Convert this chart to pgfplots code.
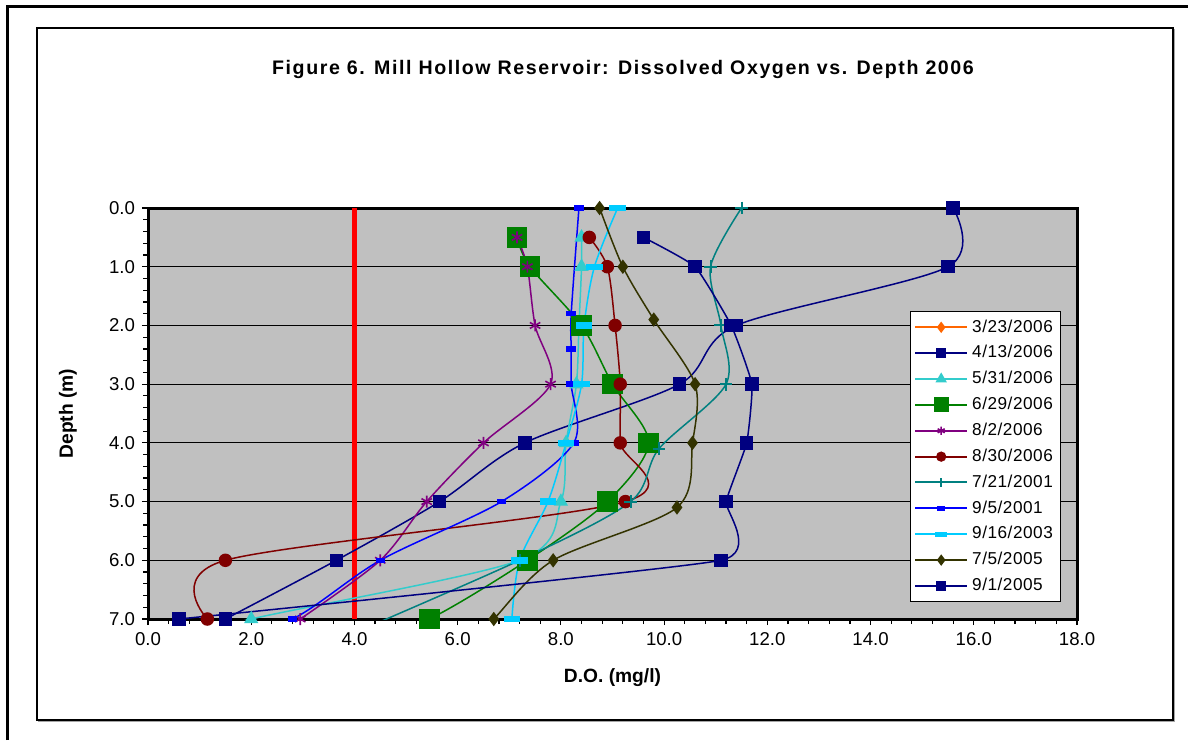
\documentclass[border=0pt]{standalone}
\usepackage{fontspec}
\setmainfont{Liberation Sans}
\usepackage{pgfplots}
\pgfplotsset{compat=1.18}
\definecolor{cnavy}{HTML}{000080}
\definecolor{cturq}{HTML}{33CCCC}
\definecolor{cgreen}{HTML}{008000}
\definecolor{cpurple}{HTML}{800080}
\definecolor{cdred}{HTML}{800000}
\definecolor{cteal}{HTML}{008080}
\definecolor{cblue}{HTML}{0000FF}
\definecolor{ccyan}{HTML}{00CCFF}
\definecolor{colive}{HTML}{333300}
\definecolor{corange}{HTML}{FF6600}
\definecolor{csilver}{HTML}{C0C0C0}
\begin{document}
\begin{tikzpicture}
\useasboundingbox (0,0) rectangle (594pt,370pt);
\fill[white] (0,0) rectangle (594pt,370pt);
\draw[line width=1.5pt] (3.5pt,0) -- (3.5pt,366.5pt) -- (594pt,366.5pt);
\draw[gray!70, line width=1pt] (19.2pt,9.3pt) -- (587.2pt,9.3pt) -- (587.2pt,355.3pt);
\draw[black, line width=0.6pt] (18.5pt,10pt) rectangle (586.5pt,356pt);
\node[font=\fontsize{9.8}{11}\selectfont\bfseries\addfontfeature{LetterSpace=8}] at (311.5pt,335.5pt) {Figure 6. Mill Hollow Reservoir: Dissolved Oxygen vs. Depth 2006};
\begin{axis}[
  at={(74pt,60.5pt)}, anchor=south west,
  width=464.5pt, height=205.5pt, scale only axis,
  xmin=0, xmax=18, ymin=0, ymax=7, y dir=reverse,
  xtick={0,2,...,18}, ytick={0,1,...,7},
  minor x tick num=4, minor y tick num=4,
  tick align=outside, major tick length=3pt, minor tick length=2.5pt,
  xtick pos=bottom, ytick pos=left,
  tick style={black, line width=0.6pt},
  axis line style={line width=1.5pt},
  axis background/.style={fill=csilver},
  ymajorgrids, grid style={black, line width=0.5pt},
  /pgf/number format/assume math mode=true,
  xticklabel style={/pgf/number format/.cd, fixed, fixed zerofill, precision=1},
  yticklabel style={/pgf/number format/.cd, fixed, fixed zerofill, precision=1},
  ticklabel style={font=\fontsize{9.3}{11}\selectfont},
  xlabel={D.O. (mg/l)}, ylabel={Depth (m)},
  label style={font=\fontsize{9.6}{11}\selectfont\bfseries},
  xlabel style={at={(axis description cs:0.5,0)}, anchor=center, yshift=-29.5pt},
  ylabel style={at={(axis description cs:0,0.5)}, anchor=center, yshift=40pt},
  legend style={at={(0.820,0.749)}, anchor=north west, draw=black, fill=white,
    font=\fontsize{8.6}{10}\selectfont\addfontfeature{LetterSpace=3}, row sep=1.2pt, inner sep=2pt,
    cells={anchor=west}},
  legend image code/.code={\draw[line width=1pt, mark repeat=2,mark phase=2, every mark/.append style={scale=0.68}] plot coordinates {(0pt,0pt)(13pt,0pt)(26pt,0pt)};},
  every axis plot/.append style={line width=0.75pt, smooth, tension=0.5},
]
\addplot[red, line width=2.6pt, mark=none, forget plot, sharp plot] coordinates {(4,0)(4,7)};
\addlegendimage{corange, mark=diamond*, mark size=3pt, mark options={solid}}
\addlegendentry{3/23/2006}
\addplot[cnavy, mark=square*, mark size=3pt] coordinates {(15.6,0)(15.5,1)(11.4,2)(10.3,3)(7.3,4)(5.65,5)(3.65,6)(1.5,7)};
\addlegendentry{4/13/2006}
\addplot[cturq, mark=triangle*, mark size=3.4pt] coordinates {(8.4,0.5)(8.4,1)(8.35,2)(8.3,3)(8.1,4)(8.0,5)(7.2,6)(2.0,7)(1.0,7.3)};
\addlegendentry{5/31/2006}
\addplot[cgreen, mark=square*, mark size=4.75pt] coordinates {(7.15,0.5)(7.4,1)(8.4,2)(9.0,3)(9.7,4)(8.9,5)(7.35,6)(5.45,7)(4.0,7.4)};
\addlegendentry{6/29/2006}
\addplot[cpurple, mark=asterisk, mark size=3pt, mark options={line width=0.8pt}] coordinates {(7.15,0.5)(7.35,1)(7.5,2)(7.8,3)(6.5,4)(5.4,5)(4.5,6)(2.95,7)};
\addlegendentry{8/2/2006}
\addplot[cdred, mark=*, mark size=3pt] coordinates {(8.55,0.5)(8.9,1)(9.05,2)(9.15,3)(9.15,4)(9.25,5)(1.5,6)(1.15,7)};
\addlegendentry{8/30/2006}
\addplot[cteal, mark=+, mark size=3.2pt, mark options={line width=1pt}] coordinates {(11.5,0)(10.9,1)(11.1,2)(11.2,3)(9.9,4.1)(9.35,5)(7.2,6)(3.3,7.5)};
\addlegendentry{7/21/2001}
\addplot[cblue, mark=square*, mark size=2pt, mark options={yscale=0.5}] coordinates {(8.35,0)(8.2,1.8)(8.2,2.4)(8.2,3)(8.25,4)(6.85,5)(4.5,6)(2.8,7)(1.0,7.5)};
\addlegendentry{9/5/2001}
\addplot[ccyan, mark=square*, mark size=3.75pt, mark options={yscale=0.33}] coordinates {(9.1,0)(8.65,1)(8.45,2)(8.4,3)(8.1,4)(7.75,5)(7.2,6)(7.05,7)};
\addlegendentry{9/16/2003}
\addplot[colive, mark=diamond*, mark size=3pt] coordinates {(8.75,0)(9.2,1)(9.8,1.9)(10.6,3)(10.55,4)(10.25,5.1)(7.85,6)(6.7,7)(6.15,7.5)};
\addlegendentry{7/5/2005}
\addplot[cnavy, mark=square*, mark size=3pt, tension=0.25] coordinates {(9.6,0.5)(10.6,1)(11.3,2)(11.7,3)(11.6,4)(11.2,5)(11.1,6)(0.6,7)};
\addlegendentry{9/1/2005}
\end{axis}
\end{tikzpicture}
\end{document}
